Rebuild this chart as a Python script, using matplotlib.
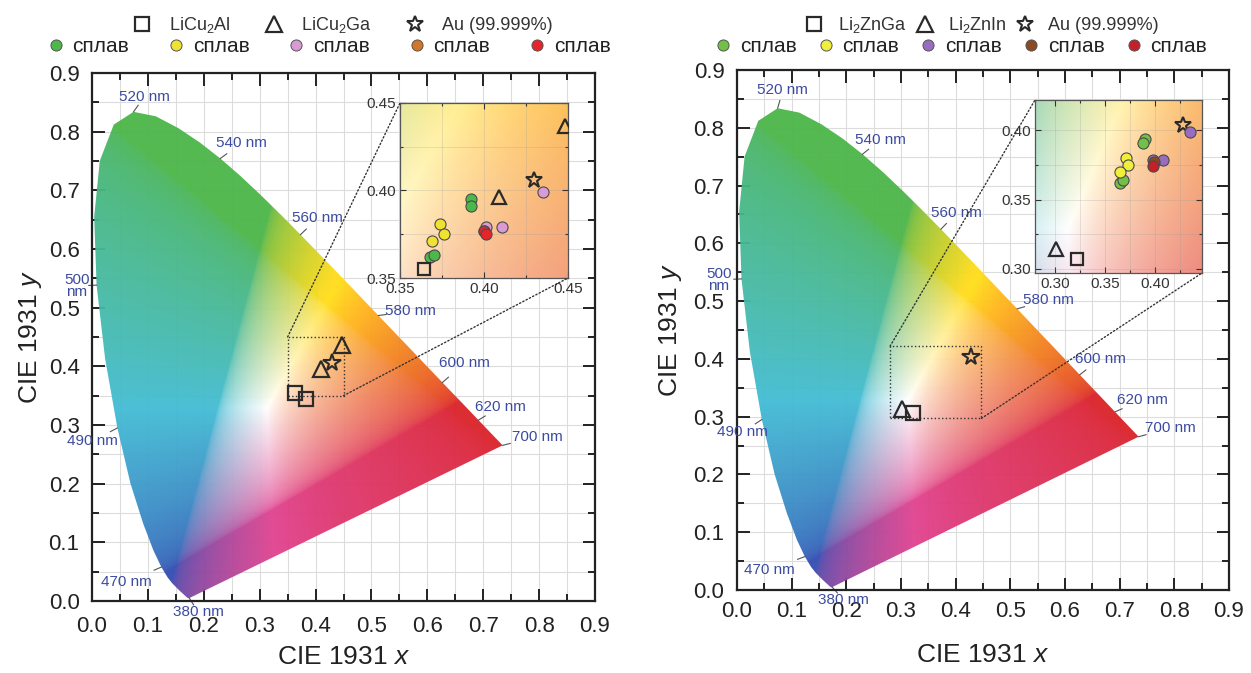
import numpy as np
import matplotlib
matplotlib.use("Agg")
import matplotlib.pyplot as plt
from matplotlib.path import Path
from matplotlib.patches import PathPatch, Rectangle, ConnectionPatch
from matplotlib.lines import Line2D
from matplotlib.ticker import MultipleLocator, FormatStrFormatter

plt.rcParams['font.family'] = ['Liberation Sans', 'DejaVu Sans']
plt.rcParams['mathtext.fontset'] = 'custom'
plt.rcParams['mathtext.rm'] = 'Liberation Sans'
plt.rcParams['mathtext.it'] = 'Liberation Sans:italic'

# CIE 1931 2 deg spectral locus (table values)
locus_nm = [380, 390, 400, 410, 420, 430, 440, 450, 460, 465, 470, 475, 480, 485, 490,
            495, 500, 505, 510, 515, 520, 525, 530, 535, 540, 545, 550, 555, 560, 565,
            570, 575, 580, 585, 590, 595, 600, 605, 610, 615, 620, 625, 630, 635, 640,
            650, 660, 680, 700]
locus_x = [0.1741, 0.1738, 0.1733, 0.1726, 0.1714, 0.1689, 0.1644, 0.1566, 0.1440, 0.1355,
           0.1241, 0.1096, 0.0913, 0.0687, 0.0454, 0.0235, 0.0082, 0.0039, 0.0139, 0.0389,
           0.0743, 0.1142, 0.1547, 0.1929, 0.2296, 0.2658, 0.3016, 0.3373, 0.3731, 0.4087,
           0.4441, 0.4788, 0.5125, 0.5448, 0.5752, 0.6029, 0.6270, 0.6482, 0.6658, 0.6801,
           0.6915, 0.7006, 0.7079, 0.7140, 0.7190, 0.7260, 0.7300, 0.7334, 0.7347]
locus_y = [0.0050, 0.0049, 0.0048, 0.0048, 0.0051, 0.0069, 0.0109, 0.0177, 0.0297, 0.0399,
           0.0578, 0.0868, 0.1327, 0.2007, 0.2950, 0.4127, 0.5384, 0.6548, 0.7502, 0.8120,
           0.8338, 0.8262, 0.8059, 0.7816, 0.7543, 0.7243, 0.6923, 0.6589, 0.6245, 0.5896,
           0.5547, 0.5202, 0.4866, 0.4544, 0.4242, 0.3965, 0.3725, 0.3514, 0.3340, 0.3197,
           0.3083, 0.2993, 0.2920, 0.2859, 0.2809, 0.2740, 0.2700, 0.2666, 0.2653]

wl_marks = [520, 540, 560, 580, 600, 620, 700, 500, 490, 470, 380]
wl_text = ['520 nm', '540 nm', '560 nm', '580 nm', '600 nm', '620 nm', '700 nm',
           '500\nnm', '490 nm', '470 nm', '380 nm']
wl_pos_left = [(0.093, 0.859), (0.268, 0.781), (0.404, 0.653), (0.569, 0.494), (0.667, 0.406),
               (0.730, 0.331), (0.796, 0.280), (-0.027, 0.537), (0.000, 0.272), (0.061, 0.032),
               (0.190, -0.019)]
wl_pos_right = [(0.084, 0.865), (0.262, 0.779), (0.402, 0.653), (0.569, 0.502), (0.664, 0.400),
                (0.741, 0.329), (0.792, 0.280), (-0.033, 0.537), (0.010, 0.273), (0.060, 0.035),
                (0.195, -0.017)]

# left panel: LiCu2Al / LiCu2Ga
left_names = ['LiCu$_2$Al', 'LiCu$_2$Ga', 'Au (99.999%)']
left_sq_x = [0.364, 0.383]
left_sq_y = [0.355, 0.344]
left_tri_x = [0.448, 0.409]
left_tri_y = [0.437, 0.396]
left_star_x = [0.430]
left_star_y = [0.406]
left_alloy_x = [[0.392, 0.392, 0.368, 0.370], [0.374, 0.376, 0.369], [0.435, 0.401, 0.411],
                [0.400], [0.400, 0.401]]
left_alloy_y = [[0.395, 0.391, 0.362, 0.363], [0.381, 0.375, 0.371], [0.399, 0.379, 0.379],
                [0.377], [0.377, 0.375]]
left_alloy_names = ['сплав', 'сплав', 'сплав', 'сплав', 'сплав']

# right panel: Li2ZnGa / Li2ZnIn
right_names = ['Li$_2$ZnGa', 'Li$_2$ZnIn', 'Au (99.999%)']
right_sq_x = [0.322]
right_sq_y = [0.307]
right_tri_x = [0.301]
right_tri_y = [0.314]
right_star_x = [0.428]
right_star_y = [0.404]
right_alloy_x = [[0.390, 0.388, 0.365, 0.368], [0.371, 0.373, 0.365], [0.435, 0.398, 0.408],
                 [0.399], [0.398]]
right_alloy_y = [[0.394, 0.391, 0.362, 0.364], [0.380, 0.375, 0.370], [0.399, 0.379, 0.379],
                 [0.377], [0.374]]
right_alloy_names = ['сплав', 'сплав', 'сплав', 'сплав', 'сплав']

left_colors = ['#4cb849', '#f0e232', '#d99ad6', '#d0772c', '#e3262b']
right_colors = ['#72c047', '#f1ee3c', '#9a6cc0', '#8a4a22', '#c51f2a']

W, H = 1251, 673
LBL = '#3b4ba0'
EDGE = '#2a2a2a'

# printed look of the pure primaries
red_t = np.array([0.86, 0.13, 0.16])
green_t = np.array([0.30, 0.71, 0.29])
blue_t = np.array([0.20, 0.30, 0.70])


def chroma_rgb(xx, yy):
    yy = np.clip(yy, 1e-3, None)
    X = xx / yy
    Z = (1 - xx - yy) / yy
    r = 3.2406 * X - 1.5372 - 0.4986 * Z
    g = -0.9689 * X + 1.8758 + 0.0415 * Z
    b = 0.0557 * X - 0.2040 + 1.0570 * Z
    rgb = np.clip(np.dstack([r, g, b]), 0, None)
    rgb = rgb / np.maximum(rgb.max(axis=2, keepdims=True), 1e-9)
    rgb = np.where(rgb <= 0.0031308, 12.92 * rgb, 1.055 * rgb ** (1 / 2.4) - 0.055)
    off = (red_t + green_t + blue_t - 1) / 2
    M = np.column_stack([red_t - off, green_t - off, blue_t - off])
    out = rgb @ M.T + off
    R, G, B = rgb[..., 0], rgb[..., 1], rgb[..., 2]
    yel = np.minimum(R, G) * (1 - B)
    cya = np.minimum(G, B) * (1 - R)
    mag = np.minimum(R, B) * (1 - G)
    out[..., 0] += 0.06 * yel - 0.06 * cya
    out[..., 1] += 0.10 * yel - 0.20 * cya - 0.10 * mag
    out[..., 2] += -0.28 * yel - 0.08 * cya - 0.22 * mag
    return np.clip(out, 0, 1)


def rect(l, t, r, b):
    return [l / W, 1 - b / H, (r - l) / W, (b - t) / H]


def color_field(ax, x0, x1, y0, y1, n=500, clip=None):
    gx, gy = np.meshgrid(np.linspace(x0, x1, n), np.linspace(y0, y1, n))
    im = ax.imshow(chroma_rgb(gx, gy), extent=(x0, x1, y0, y1), origin='lower',
                   interpolation='bilinear', aspect='auto', zorder=1, alpha=0.95)
    if clip is not None:
        im.set_clip_path(clip)
    return im


def draw_main(ax, wl_pos, sq, tri, star, box, ins, xlab_y, ylab_x, xpad):
    pts = np.column_stack([locus_x + [locus_x[0]], locus_y + [locus_y[0]]])
    patch = PathPatch(Path(pts), facecolor='none', edgecolor='none', transform=ax.transData)
    ax.add_patch(patch)
    color_field(ax, 0.0, 0.76, 0.0, 0.86, clip=patch)

    for wl, txt, (tx, ty) in zip(wl_marks, wl_text, wl_pos):
        i = locus_nm.index(wl)
        px, py = locus_x[i], locus_y[i]
        d = np.array([tx - px, ty - py])
        d = d / np.hypot(*d) * 0.014
        ax.plot([px, px + d[0]], [py, py + d[1]], color='#555555', lw=0.8, zorder=2,
                clip_on=False)
        ax.text(tx, ty, txt, color=LBL, fontsize=11, ha='center', va='center',
                linespacing=0.8, zorder=5, clip_on=False)

    ax.plot(sq[0], sq[1], 's', ms=10, mfc='none', mec=EDGE, mew=1.6, zorder=6)
    ax.plot(tri[0], tri[1], '^', ms=11, mfc='none', mec=EDGE, mew=1.6, zorder=6)
    ax.plot(star[0], star[1], '*', ms=13, mfc='none', mec=EDGE, mew=1.5, zorder=6)

    bx0, bx1, by0, by1 = box
    ax.add_patch(Rectangle((bx0, by0), bx1 - bx0, by1 - by0, fill=False, ls=':',
                           lw=1.0, ec='#333333', zorder=4))
    for xyA, xyB in [((bx0, by1), (0, 1)), ((bx1, by0), (1, 0))]:
        con = ConnectionPatch(xyA=xyA, coordsA=ax.transData, xyB=xyB, coordsB=ins.transAxes,
                              ls=':', lw=1.0, color='#333333')
        ax.figure.add_artist(con)

    ax.set_xlim(0, 0.9)
    ax.set_ylim(0, 0.9)
    ax.xaxis.set_major_locator(MultipleLocator(0.1))
    ax.yaxis.set_major_locator(MultipleLocator(0.1))
    ax.xaxis.set_minor_locator(MultipleLocator(0.05))
    ax.yaxis.set_minor_locator(MultipleLocator(0.05))
    ax.xaxis.set_major_formatter(FormatStrFormatter('%.1f'))
    ax.yaxis.set_major_formatter(FormatStrFormatter('%.1f'))
    ax.set_axisbelow(True)
    ax.grid(which='both', color='#dcdcdc', lw=0.8)
    ax.tick_params(which='both', direction='in', top=True, right=True, width=1.4,
                   labelsize=16, colors='#222222')
    ax.tick_params(which='major', length=9)
    ax.tick_params(which='minor', length=5)
    ax.tick_params(axis='x', pad=xpad)
    ax.tick_params(axis='y', pad=9)
    for s in ax.spines.values():
        s.set_linewidth(1.6)
        s.set_color('#222222')
    ax.set_xlabel('CIE 1931 $x$', fontsize=19, color='#222222')
    ax.set_ylabel('CIE 1931 $y$', fontsize=19, color='#222222')
    ax.xaxis.set_label_coords(0.5, xlab_y)
    ax.yaxis.set_label_coords(ylab_x, 0.5)
    ax.xaxis.label.set_va('center')
    ax.yaxis.label.set_va('center')


def draw_inset(ins, lims, ticks, sq, tri, star, ax_, ay_, colors):
    x0, x1, y0, y1 = lims
    color_field(ins, x0, x1, y0, y1, n=200)
    for xs, ys, c in zip(ax_, ay_, colors):
        ins.plot(xs, ys, 'o', ms=8, mfc=c, mec='#4a4a4a', mew=0.8, zorder=6)
    ins.plot(sq[0], sq[1], 's', ms=9, mfc='none', mec=EDGE, mew=1.6, zorder=7)
    ins.plot(tri[0], tri[1], '^', ms=10, mfc='none', mec=EDGE, mew=1.6, zorder=7)
    ins.plot(star[0], star[1], '*', ms=12, mfc='none', mec=EDGE, mew=1.5, zorder=5)
    ins.set_xlim(x0, x1)
    ins.set_ylim(y0, y1)
    ins.set_xticks(ticks[0])
    ins.set_yticks(ticks[1])
    ins.xaxis.set_minor_locator(MultipleLocator(0.025))
    ins.yaxis.set_minor_locator(MultipleLocator(0.025))
    ins.xaxis.set_major_formatter(FormatStrFormatter('%.2f'))
    ins.yaxis.set_major_formatter(FormatStrFormatter('%.2f'))
    ins.grid(which='both', color='#9a9a9a', lw=0.5, alpha=0.35, zorder=2)
    ins.tick_params(which='both', direction='in', top=True, right=True, width=0.8,
                    labelsize=11, colors='#333333', pad=3)
    ins.tick_params(which='major', length=4)
    ins.tick_params(which='minor', length=2)
    for s in ins.spines.values():
        s.set_linewidth(0.9)
        s.set_color('#555555')


fig = plt.figure(figsize=(12.51, 6.73), dpi=100)
axL = fig.add_axes(rect(92, 73, 595, 601))
axR = fig.add_axes(rect(737, 70, 1229, 590))
insL = fig.add_axes(rect(400, 103, 568, 278))
insR = fig.add_axes(rect(1035, 100, 1202, 273))

draw_main(axL, wl_pos_left, (left_sq_x, left_sq_y), (left_tri_x, left_tri_y),
          (left_star_x, left_star_y), (0.35, 0.45, 0.35, 0.45), insL, -0.106, -0.123, 11)
draw_main(axR, wl_pos_right, (right_sq_x, right_sq_y), (right_tri_x, right_tri_y),
          (right_star_x, right_star_y), (0.28, 0.447, 0.297, 0.422), insR, -0.125, -0.136, 8)

draw_inset(insL, (0.35, 0.45, 0.35, 0.45), ([0.35, 0.40, 0.45], [0.35, 0.40, 0.45]),
           (left_sq_x, left_sq_y), (left_tri_x, left_tri_y), (left_star_x, left_star_y),
           left_alloy_x, left_alloy_y, left_colors)
draw_inset(insR, (0.28, 0.447, 0.297, 0.422), ([0.30, 0.35, 0.40], [0.30, 0.35, 0.40]),
           (right_sq_x, right_sq_y), (right_tri_x, right_tri_y), (right_star_x, right_star_y),
           right_alloy_x, right_alloy_y, right_colors)


def legends(names, alloy_names, colors, c1, c2, tp1, cs1, cs2):
    h1 = [Line2D([], [], ls='none', marker='s', ms=10, mfc='none', mec=EDGE, mew=1.6),
          Line2D([], [], ls='none', marker='^', ms=11, mfc='none', mec=EDGE, mew=1.6),
          Line2D([], [], ls='none', marker='*', ms=12, mfc='none', mec=EDGE, mew=1.5)]
    fig.legend(h1, names, loc='center', bbox_to_anchor=(c1 / W, 1 - 25 / H), ncol=3,
               frameon=False, fontsize=13, handlelength=1.0, handletextpad=tp1,
               columnspacing=cs1, borderaxespad=0, borderpad=0, labelcolor='#333333')
    h2 = [Line2D([], [], ls='none', marker='o', ms=8, mfc=c, mec='#555555', mew=0.7)
          for c in colors]
    fig.legend(h2, alloy_names, loc='center', bbox_to_anchor=(c2 / W, 1 - 47 / H), ncol=5,
               frameon=False, fontsize=15, handlelength=0.8, handletextpad=0.4,
               columnspacing=cs2, borderaxespad=0, borderpad=0, labelcolor='#222222')


legends(left_names, left_alloy_names, left_colors, 343, 329, 1.0, 1.9, 1.85)
legends(right_names, right_alloy_names, right_colors, 982, 961, 0.8, 0.5, 1.0)

fig.savefig('out.png', dpi=100)
